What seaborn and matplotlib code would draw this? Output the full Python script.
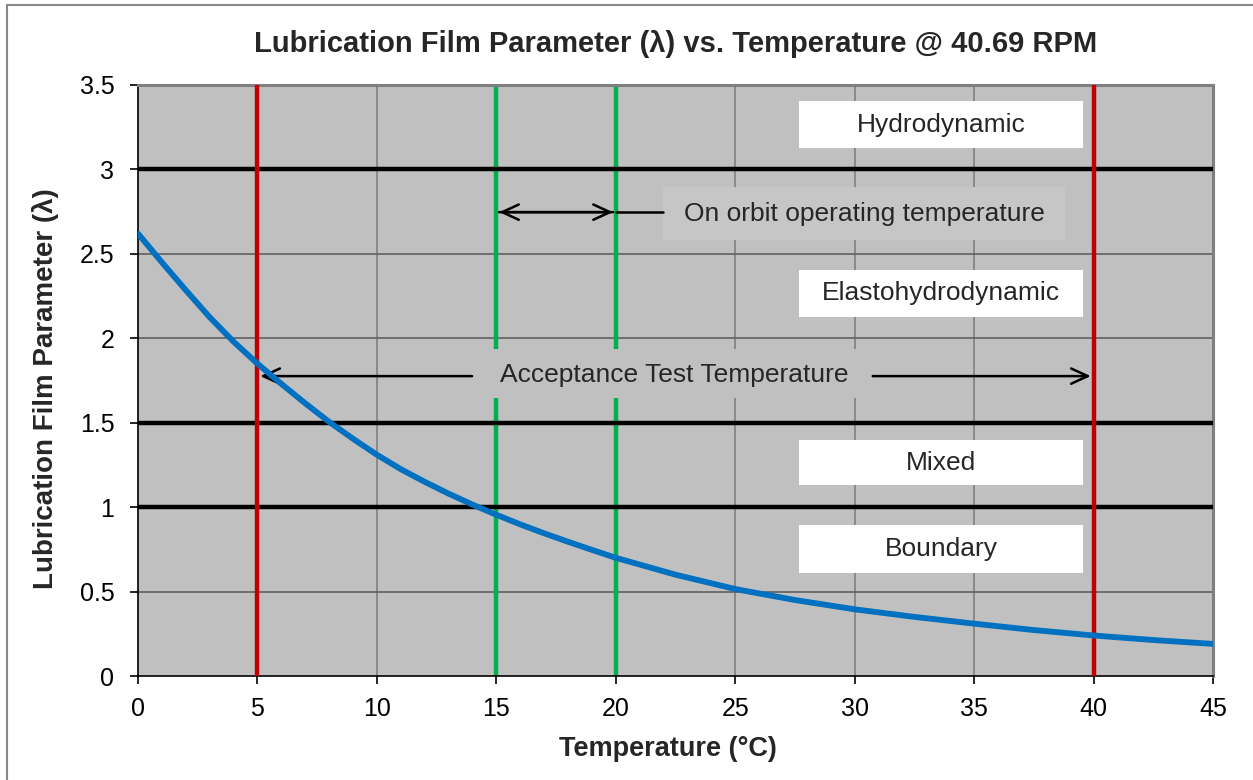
import numpy as np
import pandas as pd
import seaborn as sns
import matplotlib.pyplot as plt
from matplotlib.patches import Rectangle
from matplotlib.lines import Line2D

# lambda curve
temp_c = [0, 1, 2, 3, 4, 5, 6, 7, 8, 9, 10, 11, 12, 13, 14, 15, 16, 17, 18, 19, 20,
          22.5, 25, 27.5, 30, 32.5, 35, 37.5, 40, 42.5, 45]
lam = [2.62, 2.45, 2.285, 2.125, 1.98, 1.85, 1.73, 1.615, 1.505, 1.405, 1.31, 1.225, 1.15,
       1.08, 1.015, 0.955, 0.898, 0.845, 0.795, 0.747, 0.70,
       0.60, 0.515, 0.45, 0.395, 0.35, 0.31, 0.272, 0.24, 0.213, 0.19]

regime_bounds = [3.0, 1.5, 1.0]
acceptance_temps = [5, 40]
orbit_temps = [15, 20]

regime_names = ['Hydrodynamic', 'Elastohydrodynamic', 'Mixed', 'Boundary']
regime_box_lo = [3.124, 2.127, 1.131, 0.612]
regime_box_hi = [3.406, 2.404, 1.397, 0.894]
regime_box_x = [27.67, 39.56]

x_ticks = list(range(0, 50, 5))
y_ticks = [0, 0.5, 1, 1.5, 2, 2.5, 3, 3.5]
y_tick_labels = ['0', '0.5', '1', '1.5', '2', '2.5', '3', '3.5']

df = pd.DataFrame({'temp': temp_c, 'lam': lam})

sns.set_style('ticks')
plt.rcParams['font.family'] = ['Liberation Sans', 'DejaVu Sans']

fig = plt.figure(figsize=(12.53, 7.8), dpi=100)
ax = fig.add_axes([138 / 1253, 1 - 676 / 780, 1075 / 1253, 591 / 780])
ax.set_facecolor('#c0c0c0')

# grid
for x in x_ticks[1:-1]:
    ax.axvline(x, color='#808080', lw=1.2, zorder=1)
for y in y_ticks[1:-1]:
    ax.axhline(y, color='#606060', lw=1.2, zorder=1)

# regime boundaries and temperature limits
for y in regime_bounds:
    ax.axhline(y, color='black', lw=3.2, zorder=3)
for x in orbit_temps:
    ax.axvline(x, color='#00b050', lw=3.2, zorder=2)
for x in acceptance_temps:
    ax.axvline(x, color='#c00000', lw=3.2, zorder=4)

# regime labels in white boxes
for name, lo, hi in zip(regime_names, regime_box_lo, regime_box_hi):
    ax.add_patch(Rectangle((regime_box_x[0], lo), regime_box_x[1] - regime_box_x[0], hi - lo,
                           facecolor='white', edgecolor='none', zorder=5))
    ax.text(sum(regime_box_x) / 2, (lo + hi) / 2, name, ha='center', va='center',
            fontsize=19, zorder=6)

# on orbit annotation
ax.add_patch(Rectangle((21.98, 2.58), 38.8 - 21.98, 2.895 - 2.58,
                       facecolor='#c6c6c6', edgecolor='none', zorder=5))
ax.text(30.4, 2.735, 'On orbit operating temperature', ha='center', va='center',
        fontsize=19, zorder=6)
arrow_kw = dict(arrowstyle='->,head_length=1.2,head_width=0.55', color='black', lw=1.8)
ax.annotate('', xy=(orbit_temps[0], 2.747), xytext=(orbit_temps[1], 2.747),
            arrowprops=arrow_kw, zorder=7)
ax.annotate('', xy=(orbit_temps[1], 2.747), xytext=(orbit_temps[0], 2.747),
            arrowprops=arrow_kw, zorder=7)
ax.plot([orbit_temps[1], 21.98], [2.747, 2.747], color='black', lw=1.8, zorder=7)

# acceptance test annotation
ax.add_patch(Rectangle((14.3, 1.646), 30.4 - 14.3, 1.936 - 1.646,
                       facecolor='#c0c0c0', edgecolor='none', zorder=5))
ax.text(22.45, 1.78, 'Acceptance Test Temperature', ha='center', va='center',
        fontsize=19, zorder=6)
ax.annotate('', xy=(acceptance_temps[0], 1.776), xytext=(14.1, 1.776),
            arrowprops=arrow_kw, zorder=7)
ax.annotate('', xy=(acceptance_temps[1], 1.776), xytext=(30.64, 1.776),
            arrowprops=arrow_kw, zorder=7)

# lambda curve
sns.lineplot(data=df, x='temp', y='lam', ax=ax, color='#0070c0', lw=4.2, zorder=8)

ax.set_xlim(0, 45)
ax.set_ylim(0, 3.5)
ax.set_xticks(x_ticks)
ax.set_yticks(y_ticks)
ax.set_yticklabels(y_tick_labels)
ax.tick_params(axis='both', direction='out', length=6, width=1.2, colors='black',
               labelsize=18)
ax.tick_params(axis='x', pad=9)
ax.tick_params(axis='y', pad=11)

for side in ['top', 'right']:
    ax.spines[side].set_color('#808080')
    ax.spines[side].set_linewidth(2.2)
    ax.spines[side].set_visible(True)
for side in ['left', 'bottom']:
    ax.spines[side].set_color('black')
    ax.spines[side].set_linewidth(1.2)

ax.set_xlabel('Temperature (°C)', fontsize=19.5, fontweight='bold')
ax.set_ylabel('Lubrication Film Parameter (λ)', fontsize=20, fontweight='bold')
ax.xaxis.set_label_coords(0.493, -0.1015)
ax.yaxis.set_label_coords(-0.0735, 0.486)

fig.text(0.539, 0.944, 'Lubrication Film Parameter (λ) vs. Temperature @ 40.69 RPM',
         ha='center', va='center', fontsize=21, fontweight='bold')

# chart frame like the spreadsheet export
fig.add_artist(Line2D([7 / 1253, 7 / 1253], [0, 1 - 5 / 780], color='#888888', lw=1.5))
fig.add_artist(Line2D([7 / 1253, 1], [1 - 5 / 780, 1 - 5 / 780], color='#888888', lw=1.5))

fig.savefig('out.png', dpi=100)
